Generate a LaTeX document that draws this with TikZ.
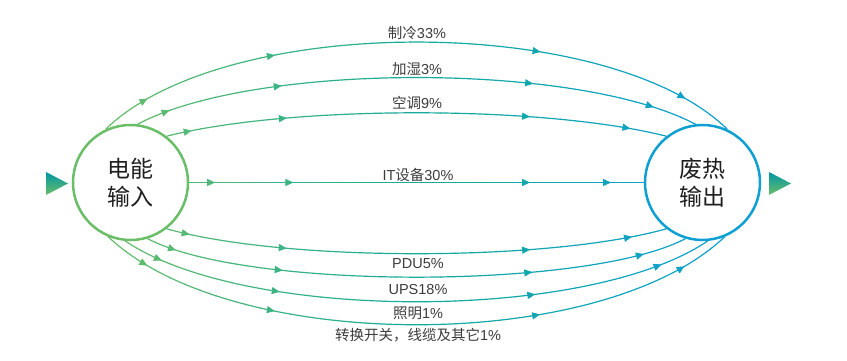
\documentclass[tikz,border=0pt]{standalone}
\usepackage{fontspec}
\setmainfont{Liberation Sans}
\newfontfamily\cjk{Noto Sans CJK SC}
\usetikzlibrary{arrows.meta,decorations.markings}

\definecolor{ingreen}{RGB}{106,190,104}
\definecolor{midteal}{RGB}{22,170,155}
\definecolor{outblue}{RGB}{14,160,210}
\definecolor{markteal}{RGB}{0,150,165}
\definecolor{labelgray}{RGB}{60,60,60}

\tikzset{
  flow/.style n args={4}{color=flowc, line width=1.2pt,
    postaction={decorate, decoration={markings,
      mark=at position #1 with {\arrow{Triangle[length=8pt,width=7pt]}},
      mark=at position #2 with {\arrow{Triangle[length=8pt,width=7pt]}},
      mark=at position #3 with {\arrow{Triangle[length=8pt,width=7pt]}},
      mark=at position #4 with {\arrow{Triangle[length=8pt,width=7pt]}}}}},
  hub/.style={circle, line width=2.5pt, inner sep=0pt, minimum size=115pt,
    align=center, font=\cjk\fontsize{23}{28}\selectfont, text=black!88},
  flowlabel/.style={inner sep=0.75pt, font=\fontsize{14.5}{17}\selectfont, text=labelgray}
}

\begin{document}
\begin{tikzpicture}[x=1pt,y=1pt,yscale=-1,xscale=1]
\useasboundingbox (0,0) rectangle (847,361);

%Shape: Circle [id:ein]
\node [hub, draw=ingreen] (ein) at (130.5,182.5) {电能\\输入};
%Shape: Circle [id:fout]
\node [hub, draw=outblue] (fout) at (702.5,182.5) {废热\\输出};

%Shape: Triangle
\shade [top color=markteal, bottom color=ingreen] (46,172) -- (68,183.5) -- (46,195) -- cycle;
%Shape: Triangle
\shade [top color=markteal, bottom color=ingreen] (769,172) -- (791,183.5) -- (769,195) -- cycle;

%Curve Lines, coloured strip by strip from green to blue
\foreach \i in {0,...,42}{
  \pgfmathsetmacro{\xa}{95+15*\i}
  \pgfmathsetmacro{\xb}{\xa+15.5}
  \pgfmathtruncatemacro{\pa}{min(100,round(200*\i/42))}
  \pgfmathtruncatemacro{\pb}{max(0,round(200*\i/42-100))}
  \colorlet{flowa}{midteal!\pa!ingreen}
  \colorlet{flowc}{outblue!\pb!flowa}
  \begin{scope}
  \clip (\xa,0) rectangle (\xb,361);
  \draw [flow={0.079}{0.284}{0.689}{0.921}] (ein.115) .. controls (225,13) and (608,13) .. (fout.65);
  \draw [flow={0.061}{0.263}{0.705}{0.921}] (ein.83) .. controls (255,62) and (578,62) .. (fout.97);
  \draw [flow={0.051}{0.242}{0.726}{0.927}] (ein.52) .. controls (290,105) and (543,105) .. (fout.128);
  \draw [flow={0.057}{0.229}{0.750}{0.928}] (ein) -- (fout);
  \draw [flow={0.047}{0.242}{0.726}{0.930}] (ein.-52) .. controls (285,262) and (548,262) .. (fout.-128);
  \draw [flow={0.056}{0.255}{0.712}{0.919}] (ein.-73) .. controls (245,290) and (588,290) .. (fout.-107);
  \draw [flow={0.069}{0.272}{0.698}{0.914}] (ein.-95) .. controls (245,322) and (588,322) .. (fout.-85);
  \draw [flow={0.074}{0.282}{0.690}{0.924}] (ein.-112) .. controls (232,354) and (601,354) .. (fout.-68);
  \end{scope}
}

% Text Node
\draw (417,33) node [flowlabel] (lcool) {{\cjk 制冷}33\%};
% Text Node
\draw (417,69) node [flowlabel] (lhum) {{\cjk 加湿}3\%};
% Text Node
\draw (417,103) node [flowlabel] (lac) {{\cjk 空调}9\%};
% Text Node
\draw (418,175) node [flowlabel] (lit) {IT{\cjk 设备}30\%};
% Text Node
\draw (418,264) node [flowlabel] (lpdu) {PDU5\%};
% Text Node
\draw (418,290) node [flowlabel] (lups) {UPS18\%};
% Text Node
\draw (418,313) node [flowlabel] (llight) {{\cjk 照明}1\%};
% Text Node
\draw (418,335) node [flowlabel] (lother) {{\cjk 转换开关，线缆及其它}1\%};
\end{tikzpicture}
\end{document}
